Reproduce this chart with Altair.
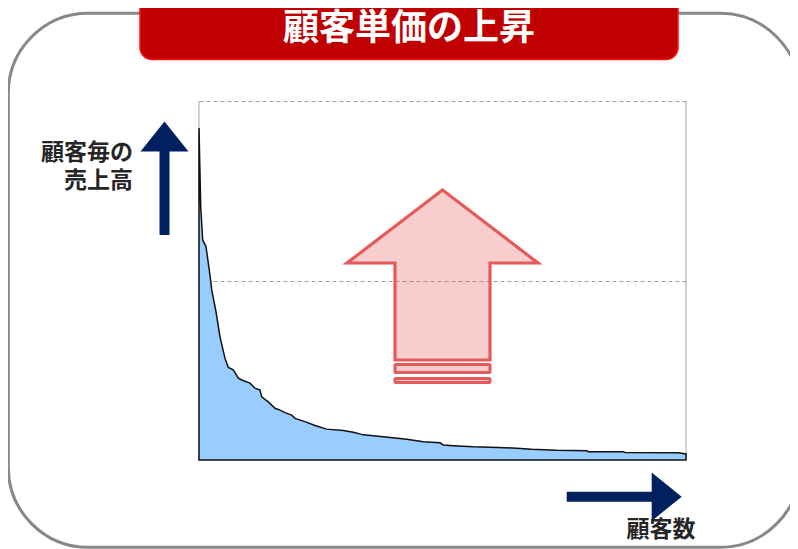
import altair as alt
import pandas as pd

# ---- data ----
customer_share = [0, 0.35, 0.76, 1.44, 2.11, 2.40, 2.61, 3.49, 4.31, 5.34,
                  6.02, 7.04, 8.07, 8.77, 10.47, 11.50, 12.53, 12.87, 14.23, 15.61,
                  16.63, 17.66, 19.03, 19.71, 21.77, 23.82, 26.22, 29.63, 31.68, 33.74,
                  37.84, 42.65, 46.06, 49.49, 50.16, 52.22, 56.32, 61.46, 65.24, 68.32,
                  73.45, 79.61, 79.94, 87.13, 87.47, 98.42, 100]
sales_per_customer = [92.5, 70.6, 61.3, 59.4, 52.9, 49.9, 47.4, 41.3, 34.3, 28.3,
                      25.8, 25.1, 22.8, 22.3, 21.4, 20.0, 19.5, 17.6, 16.2, 14.4,
                      13.9, 13.2, 12.5, 11.6, 10.7, 9.6, 8.6, 8.2, 7.7, 7.0,
                      6.5, 5.8, 5.1, 4.8, 4.2, 4.0, 3.7, 3.5, 3.3, 3.0,
                      2.7, 2.6, 2.3, 2.3, 2.1, 2.0, 1.7]
grid_levels = [50, 100]
frame_edges = [0, 100]
title_text = "顧客単価の上昇"
y_label_lines = ["顧客毎の", "売上高"]
x_label = "顧客数"

FONT = "Noto Sans CJK JP"
df = pd.DataFrame({"share": customer_share, "sales": sales_per_customer})
one = pd.DataFrame({"k": [0]})

xs = alt.Scale(domain=[0, 100], nice=False, zero=False)
ys = alt.Scale(domain=[0, 100], nice=False, zero=False)

# outer rounded frame
frame = alt.Chart(one).mark_rect(filled=False, stroke="#888888", strokeWidth=3,
                                 cornerRadius=80).encode(
    x=alt.value(-190.7), x2=alt.value(601), y=alt.value(-87.7), y2=alt.value(446.3))

# red title box
title_box = alt.Chart(one).mark_rect(fill="#C00000", stroke="#FF1010", strokeWidth=1.5,
                                     cornerRadius=12).encode(
    x=alt.value(-59), x2=alt.value(479), y=alt.value(-130), y2=alt.value(-41.5))
title = alt.Chart(one).mark_text(font=FONT, fontSize=36, fontWeight="bold", color="white",
                                 align="center", baseline="top").encode(
    x=alt.value(210), y=alt.value(-89), text=alt.value(title_text))

# plot frame edges (thin gray)
edges = alt.Chart(pd.DataFrame({"share": frame_edges})).mark_rule(
    color="#a6a6a6", strokeWidth=1).encode(
    x=alt.X("share:Q", scale=xs, axis=None), y=alt.value(0), y2=alt.value(359))

# area of sales per customer
area = alt.Chart(df).mark_area(fill="#99CCFF", stroke="#111111", strokeWidth=1.5,
                               interpolate="linear").encode(
    x=alt.X("share:Q", scale=xs, axis=None),
    y=alt.Y("sales:Q", scale=ys,
            axis=alt.Axis(values=grid_levels, grid=True, gridDash=[4, 3],
                          gridColor="#a0a0a0", gridWidth=1, domain=False,
                          labels=False, ticks=False, title=None)))

# big red up arrow
red = "#E55B5B"
up_path = ("M0,-0.85 L0.955,-0.12 L0.475,-0.12 L0.475,0.85 "
           "L-0.475,0.85 L-0.475,-0.12 L-0.955,-0.12 Z")
red_arrow = alt.Chart(one).mark_point(shape=up_path, filled=True, fill=red, fillOpacity=0.3,
                                      stroke=red, strokeWidth=3.2, strokeOpacity=1,
                                      opacity=1).encode(
    x=alt.value(243.5), y=alt.value(174), size=alt.value(40000))
bar1 = alt.Chart(one).mark_rect(fill=red, fillOpacity=0.3, stroke=red, strokeWidth=3,
                                cornerRadius=1).encode(
    x=alt.value(196), x2=alt.value(291), y=alt.value(263.5), y2=alt.value(271.5))
bar2 = alt.Chart(one).mark_rect(fill=red, fillOpacity=0.3, stroke=red, strokeWidth=3,
                                cornerRadius=1).encode(
    x=alt.value(196), x2=alt.value(291), y=alt.value(277.5), y2=alt.value(281.5))

# navy axis arrows
navy = "#002060"
v_path = ("M0,-0.945 L0.4,-0.445 L0.0833,-0.445 L0.0833,0.945 "
          "L-0.0833,0.945 L-0.0833,-0.445 L-0.4,-0.445 Z")
h_path = ("M0.958,0 L0.458,-0.403 L0.458,-0.083 L-0.958,-0.083 "
          "L-0.958,0.083 L0.458,0.083 L0.458,0.403 Z")
v_arrow = alt.Chart(one).mark_point(shape=v_path, filled=True, fill=navy, opacity=1).encode(
    x=alt.value(-34.5), y=alt.value(77.3), size=alt.value(14400))
h_arrow = alt.Chart(one).mark_point(shape=h_path, filled=True, fill=navy, opacity=1).encode(
    x=alt.value(425.2), y=alt.value(395.7), size=alt.value(14400))

# axis labels
lab_style = dict(font=FONT, fontSize=23, fontWeight="bold", color="#262626")
ylab = alt.Chart(one).mark_text(align="right", baseline="middle", lineHeight=27.7,
                                **lab_style).encode(
    x=alt.value(-66), y=alt.value(51.9), text=alt.value(y_label_lines))
xlab = alt.Chart(one).mark_text(align="center", baseline="middle", **lab_style).encode(
    x=alt.value(462), y=alt.value(429), text=alt.value(x_label))

chart = alt.layer(
    edges, area, frame, title_box, title, red_arrow, bar1, bar2,
    v_arrow, h_arrow, ylab, xlab
).properties(
    width=487, height=359,
    padding={"left": 191, "top": 93, "right": 104, "bottom": 89},
    autosize=alt.AutoSizeParams(type="none"),
).configure_view(strokeWidth=0)

chart.save("out.html", embed_options={"renderer": "svg", "actions": False})
